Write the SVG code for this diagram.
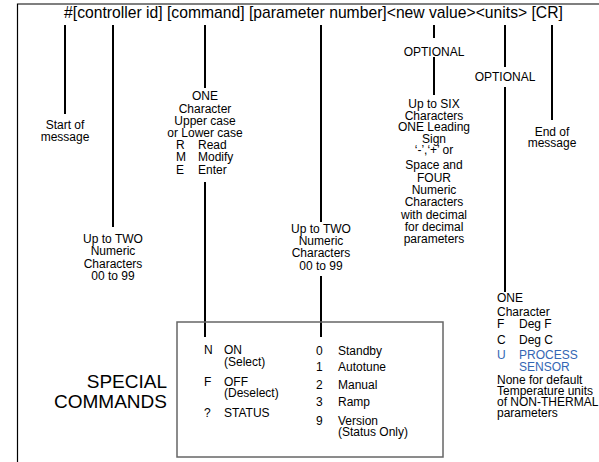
<svg xmlns="http://www.w3.org/2000/svg" width="599" height="462" viewBox="0 0 599 462">
<style>
text{font-family:"Liberation Sans",Arial,sans-serif;font-size:12px;fill:#000}
.c{text-anchor:middle}
.title{font-size:15.7px}
.big{font-size:19px;text-anchor:end}
.blue{fill:#3366b3}
.lead{stroke:#000;stroke-width:2;fill:none}
</style>
<rect width="599" height="462" fill="#fff"/>
<g id="frame">
<path d="M17.5,462 V4 H599" fill="none" stroke="#000" stroke-width="1.2"/>
</g>
<g id="title">
<text class="title c" x="313.5" y="18">#[controller id] [command] [parameter number]&lt;new value&gt;&lt;units&gt; [CR]</text>
</g>
<g id="connectors" class="lead">
<line x1="65" y1="25" x2="65" y2="114"/>
<line x1="113" y1="25" x2="113" y2="227"/>
<line x1="205" y1="25" x2="205" y2="88"/>
<line x1="205" y1="182" x2="205" y2="337"/>
<line x1="321" y1="25" x2="321" y2="222"/>
<line x1="321" y1="276" x2="321" y2="337"/>
<line x1="434" y1="25" x2="434" y2="38"/>
<line x1="434" y1="57" x2="434" y2="95"/>
<line x1="505" y1="25" x2="505" y2="67"/>
<line x1="505" y1="87" x2="505" y2="292"/>
<line x1="552" y1="25" x2="552" y2="120"/>
</g>
<g id="start">
<text class="c" x="65" y="129">Start of</text>
<text class="c" x="65" y="141">message</text>
</g>
<g id="controller-id">
<text class="c" x="113" y="243">Up to TWO</text>
<text class="c" x="113" y="255">Numeric</text>
<text class="c" x="113" y="268">Characters</text>
<text class="c" x="113" y="280">00 to 99</text>
</g>
<g id="command">
<text class="c" x="205" y="100">ONE</text>
<text class="c" x="205" y="113">Character</text>
<text class="c" x="205" y="125">Upper case</text>
<text class="c" x="205" y="137">or Lower case</text>
<text x="176" y="149">R</text><text x="198" y="149">Read</text>
<text x="176" y="161">M</text><text x="198" y="161">Modify</text>
<text x="176" y="174">E</text><text x="198" y="174">Enter</text>
</g>
<g id="parameter">
<text class="c" x="321" y="233">Up to TWO</text>
<text class="c" x="321" y="245">Numeric</text>
<text class="c" x="321" y="257">Characters</text>
<text class="c" x="321" y="270">00 to 99</text>
</g>
<g id="new-value">
<text class="c" x="434" y="56">OPTIONAL</text>
<text class="c" x="434" y="108">Up to SIX</text>
<text class="c" x="434" y="120">Characters</text>
<text class="c" x="434" y="131">ONE Leading</text>
<text class="c" x="434" y="143">Sign</text>
<text class="c" x="434" y="154">‘-’,‘+’ or</text>
<text class="c" x="434" y="169">Space and</text>
<text class="c" x="434" y="182">FOUR</text>
<text class="c" x="434" y="194">Numeric</text>
<text class="c" x="434" y="206">Characters</text>
<text class="c" x="434" y="219">with decimal</text>
<text class="c" x="434" y="231">for decimal</text>
<text class="c" x="434" y="243">parameters</text>
</g>
<g id="units">
<text class="c" x="505" y="81">OPTIONAL</text>
<text x="497" y="302">ONE</text>
<text x="497" y="316">Character</text>
<text x="497" y="328">F</text><text x="519" y="328">Deg F</text>
<text x="497" y="344">C</text><text x="519" y="344">Deg C</text>
<text class="blue" x="497" y="359">U</text><text class="blue" x="519" y="359">PROCESS</text>
<text class="blue" x="519" y="371">SENSOR</text>
<text x="497" y="384">None for default</text>
<text x="497" y="395">Temperature units</text>
<text x="497" y="406">of NON-THERMAL</text>
<text x="497" y="417">parameters</text>
</g>
<g id="end">
<text class="c" x="552" y="136">End of</text>
<text class="c" x="552" y="147">message</text>
</g>
<g id="special-label">
<text class="big" x="167" y="388">SPECIAL</text>
<text class="big" x="167" y="408">COMMANDS</text>
</g>
<g id="special-box">
<rect x="177" y="322" width="266" height="135" fill="none" stroke="#666" stroke-width="1.5"/>
<text x="204" y="354">N</text><text x="224" y="354">ON</text>
<text x="224" y="366">(Select)</text>
<text x="204" y="386">F</text><text x="224" y="386">OFF</text>
<text x="224" y="397">(Deselect)</text>
<text x="204" y="417">?</text><text x="224" y="417">STATUS</text>
<text x="316" y="355">0</text><text x="338" y="355">Standby</text>
<text x="316" y="371">1</text><text x="338" y="371">Autotune</text>
<text x="316" y="389">2</text><text x="338" y="389">Manual</text>
<text x="316" y="406">3</text><text x="338" y="406">Ramp</text>
<text x="316" y="425">9</text><text x="338" y="425">Version</text>
<text x="338" y="436">(Status Only)</text>
</g>
</svg>
